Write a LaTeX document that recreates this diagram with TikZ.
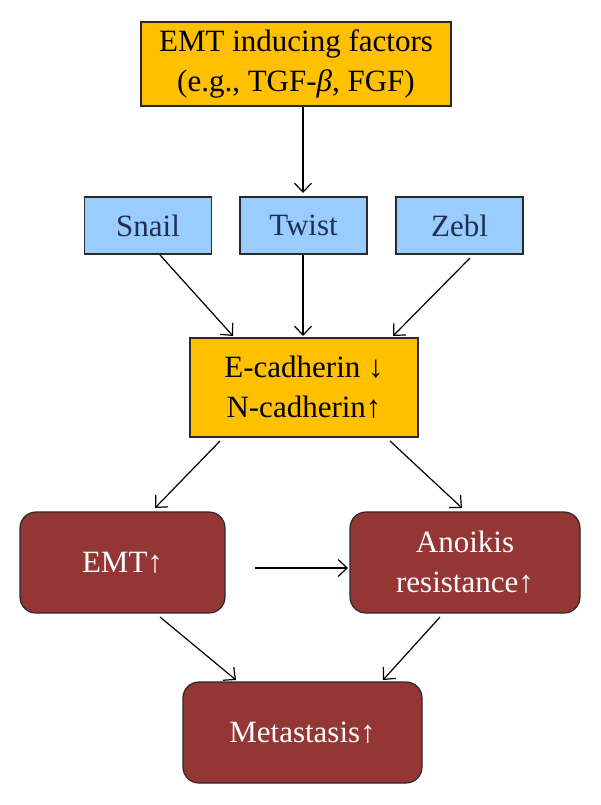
\documentclass[tikz,border=0pt]{standalone}
\usepackage{fontspec}
\setmainfont{Liberation Serif}
\usetikzlibrary{arrows.meta}
\definecolor{orangebox}{HTML}{FFC000}
\definecolor{bluebox}{HTML}{99CCFF}
\definecolor{redbox}{HTML}{943634}
\definecolor{edgecol}{HTML}{2A2A2A}
\definecolor{navytext}{HTML}{1F3050}
\tikzset{
  base/.style={draw=edgecol, line width=1.2pt, align=center, inner sep=0pt, font=\fontsize{31}{40}\selectfont},
  orangenode/.style={base, fill=orangebox, text=black},
  bluenode/.style={base, fill=bluebox, text=navytext, minimum width=127pt, minimum height=57pt},
  rednode/.style={base, fill=redbox, text=white, rounded corners=16pt, minimum height=101pt},
  conn/.style={-{Straight Barb[length=9pt,width=17pt]}, line width=1.2pt, black}
}
\begin{document}
\begin{tikzpicture}[x=1pt,y=-1pt]
\useasboundingbox (0,0) rectangle (600,805);
\node[orangenode, minimum width=310pt, minimum height=84pt] (emtf) at (296,64) {EMT inducing factors\\(e.g., TGF-{\itshape β}, FGF)};
\node[bluenode] (snail) at (148,225.5) {Snail};
\node[bluenode] (twist) at (303.5,225.5) {Twist};
\node[bluenode] (zeb) at (459.5,225.5) {Zebl};
\node[orangenode, minimum width=228pt, minimum height=99pt] (cad) at (304,387.5) {E-cadherin ↓\\N-cadherin↑};
\node[rednode, minimum width=205pt] (emt) at (122.5,562.5) {EMT↑};
\node[rednode, minimum width=230pt] (ano) at (465,562.5) {Anoikis\\resistance↑};
\node[rednode, minimum width=239pt] (met) at (302.5,732.5) {Metastasis↑};
\coordinate (a1s) at (303,107);
\coordinate (a1e) at (303,193);
\draw[conn] (emtf.south -| a1s) -- (a1e);
\coordinate (s1) at (160,255); \coordinate (s2) at (233,336);
\coordinate (t1) at (303,255); \coordinate (t2) at (303,336);
\coordinate (z1) at (470,258); \coordinate (z2) at (393,336);
\draw[conn] (s1) -- (s2);
\draw[conn] (twist.south -| t1) -- (t2);
\draw[conn] (z1) -- (z2);
\coordinate (c1) at (220,441); \coordinate (c2) at (155,508);
\coordinate (c3) at (390,441); \coordinate (c4) at (462,508);
\draw[conn] (c1) -- (c2);
\draw[conn] (c3) -- (c4);
\coordinate (e1) at (255,568); \coordinate (e2) at (348,568);
\draw[conn] (e1) -- (e2);
\coordinate (m1) at (160,617); \coordinate (m2) at (236,680);
\coordinate (m3) at (440,617); \coordinate (m4) at (383,680);
\draw[conn] (m1) -- (m2);
\draw[conn] (m3) -- (m4);
\end{tikzpicture}
\end{document}
